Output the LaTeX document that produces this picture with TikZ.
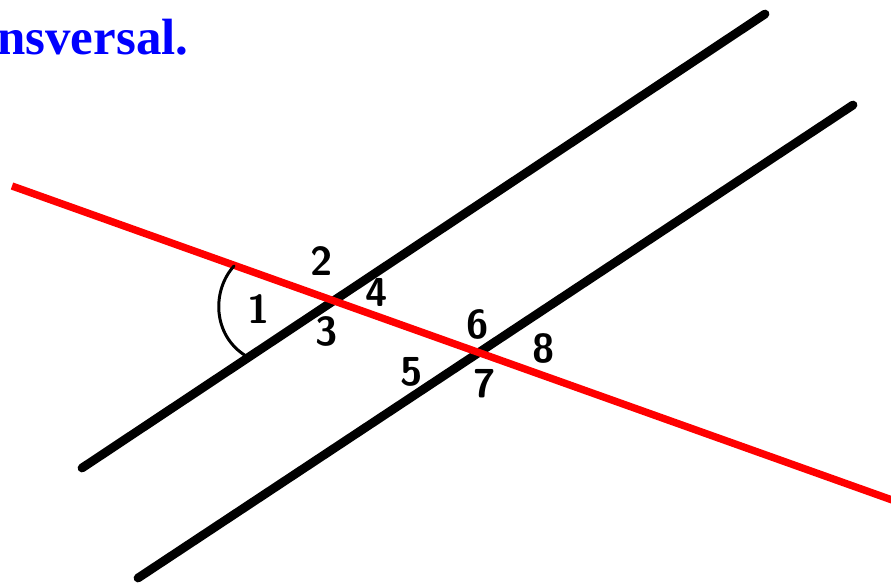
\documentclass[tikz,border=0pt]{standalone}
\usepackage{fontspec}
\setmainfont{Liberation Serif}
\usepackage{xcolor}
\usetikzlibrary{positioning, calc}

\begin{document}
\begin{tikzpicture}[
            x=0.02cm, y=-0.02cm,
            linea/.style={line width=5pt, line cap=round},
            transversal/.style={line width=4.2pt, red},
            etiqueta/.style={font=\sffamily\bfseries\fontsize{23}{23}\selectfont, inner sep=0pt},
            titulo/.style={font=\bfseries\fontsize{29}{30}\selectfont, text=blue, inner sep=0pt, anchor=base west}
        ]

        % --- Marco del dibujo ---
        \useasboundingbox (0,0) rectangle (891,586);

        % --- Texto superior (cortado) ---
        \node[titulo] (titulo) at (-3,54) {nsversal.};

        % --- Rectas paralelas ---
        \coordinate (p1a) at (82,468);
        \coordinate (p1b) at (765,14);
        \coordinate (p2a) at (138,578);
        \coordinate (p2b) at (853,105);
        \draw[linea] (p1a) -- (p1b);
        \draw[linea] (p2a) -- (p2b);

        % --- Transversal ---
        \coordinate (ta) at (12,186);
        \coordinate (tb) at (895,501);
        \draw[transversal] (ta) -- (tb);

        % --- Arco del angulo 1 ---
        \coordinate (arcoA) at (234,266);
        \coordinate (arcoB) at (246,356);
        \draw[line width=1.7pt, line cap=round] (arcoA) .. controls (212,290) and (212,335) .. (arcoB);

        % --- Numeros de los angulos ---
        \node[etiqueta] (a1) at (259,309) {1};
        \node[etiqueta] (a2) at (322,261) {2};
        \node[etiqueta] (a3) at (327,331) {3};
        \node[etiqueta] (a4) at (377,292) {4};
        \node[etiqueta] (a5) at (412,372) {5};
        \node[etiqueta] (a6) at (478,324) {6};
        \node[etiqueta] (a7) at (485,384) {7};
        \node[etiqueta] (a8) at (544,348) {8};

        \end{tikzpicture}
\end{document}
